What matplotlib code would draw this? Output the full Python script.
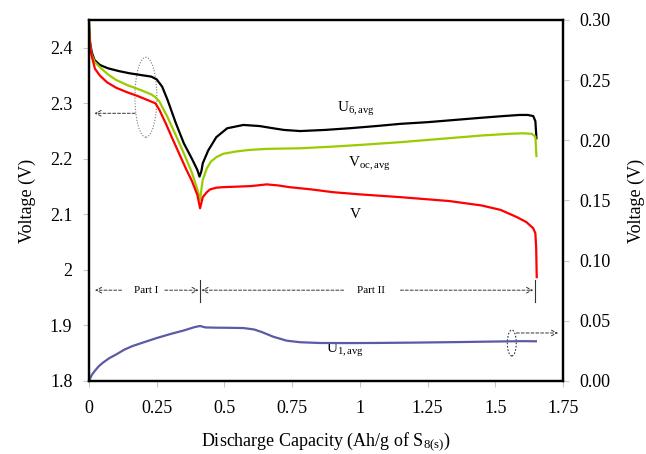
import matplotlib
matplotlib.use('Agg')
import matplotlib.pyplot as plt
from matplotlib.patches import Ellipse
from matplotlib.ticker import FormatStrFormatter

plt.rcParams['font.family'] = ['Liberation Serif', 'DejaVu Serif']
plt.rcParams['mathtext.fontset'] = 'custom'
plt.rcParams['mathtext.rm'] = 'Liberation Serif'
plt.rcParams['mathtext.it'] = 'Liberation Serif'

# U6,avg (black), left axis
u6_x = [0, 0.004, 0.01, 0.02, 0.04, 0.07, 0.11, 0.15, 0.19, 0.23, 0.25, 0.27, 0.29, 0.32,
        0.35, 0.38, 0.40, 0.408, 0.415, 0.42, 0.44, 0.47, 0.51, 0.57, 0.63, 0.68, 0.72,
        0.78, 0.87, 0.96, 1.06, 1.15, 1.25, 1.35, 1.45, 1.53, 1.59, 1.62, 1.64, 1.648, 1.652]
u6_y = [2.445, 2.41, 2.392, 2.378, 2.369, 2.363, 2.358, 2.354, 2.351, 2.348, 2.343, 2.33,
        2.306, 2.265, 2.228, 2.20, 2.18, 2.168, 2.178, 2.192, 2.215, 2.239, 2.255, 2.261,
        2.259, 2.255, 2.252, 2.250, 2.252, 2.255, 2.259, 2.263, 2.266, 2.270, 2.274, 2.277,
        2.279, 2.279, 2.277, 2.268, 2.237]

# Voc,avg (green), left axis
voc_x = [0, 0.003, 0.008, 0.02, 0.04, 0.07, 0.10, 0.14, 0.19, 0.23, 0.245, 0.26, 0.29,
         0.32, 0.35, 0.38, 0.40, 0.41, 0.415, 0.42, 0.435, 0.45, 0.47, 0.495, 0.54, 0.59,
         0.66, 0.78, 0.9, 1.0, 1.15, 1.3, 1.45, 1.55, 1.6, 1.635, 1.648, 1.652]
voc_y = [2.445, 2.41, 2.39, 2.375, 2.365, 2.352, 2.342, 2.333, 2.324, 2.316, 2.311, 2.303,
         2.275, 2.243, 2.21, 2.175, 2.145, 2.126, 2.145, 2.162, 2.183, 2.195, 2.203, 2.209,
         2.213, 2.216, 2.218, 2.219, 2.222, 2.225, 2.230, 2.236, 2.242, 2.245, 2.246, 2.245,
         2.240, 2.205]

# V (red), left axis
v_x = [0, 0.003, 0.01, 0.022, 0.04, 0.066, 0.10, 0.14, 0.18, 0.21, 0.245, 0.26, 0.285,
       0.31, 0.335, 0.36, 0.38, 0.40, 0.41, 0.42, 0.435, 0.447, 0.47, 0.495, 0.55, 0.6,
       0.656, 0.70, 0.74, 0.82, 0.90, 1.0, 1.15, 1.33, 1.45, 1.52, 1.58, 1.615, 1.64,
       1.648, 1.651, 1.653]
v_y = [2.43, 2.405, 2.385, 2.362, 2.35, 2.338, 2.328, 2.32, 2.313, 2.307, 2.30, 2.288,
       2.262, 2.234, 2.207, 2.18, 2.16, 2.135, 2.111, 2.131, 2.14, 2.145, 2.148, 2.149,
       2.150, 2.151, 2.154, 2.152, 2.149, 2.145, 2.140, 2.136, 2.131, 2.124, 2.116, 2.108,
       2.095, 2.086, 2.075, 2.066, 2.04, 1.987]

# U1,avg (blue), right axis
u1_x = [0, 0.01, 0.02, 0.035, 0.05, 0.075, 0.10, 0.13, 0.16, 0.20, 0.25, 0.30, 0.35,
        0.39, 0.41, 0.43, 0.47, 0.52, 0.57, 0.61, 0.64, 0.68, 0.73, 0.78, 0.85, 0.95,
        1.05, 1.2, 1.35, 1.5, 1.6, 1.65]
u1_y = [0.0, 0.005, 0.008, 0.012, 0.015, 0.019, 0.022, 0.026, 0.029, 0.032, 0.0357,
        0.039, 0.042, 0.0448, 0.0457, 0.0445, 0.0443, 0.0442, 0.044, 0.0428, 0.0405,
        0.0368, 0.0335, 0.0322, 0.0316, 0.0315, 0.0316, 0.0319, 0.0323, 0.0328, 0.0331,
        0.0330]

x_ticks = [0, 0.25, 0.5, 0.75, 1, 1.25, 1.5, 1.75]
left_ticks = [1.8, 1.9, 2.0, 2.1, 2.2, 2.3, 2.4]
right_ticks = [0.0, 0.05, 0.10, 0.15, 0.20, 0.25, 0.30]

fig = plt.figure(figsize=(6.46, 4.54), dpi=100)
ax = fig.add_axes([0.1378, 0.1608, 0.7337, 0.7952])
ax2 = ax.twinx()

ax.plot(u6_x, u6_y, color='black', lw=1.6)
ax.plot(voc_x, voc_y, color='#99cc00', lw=1.6)
ax.plot(v_x, v_y, color='#ff0000', lw=1.6)
ax2.plot(u1_x, u1_y, color='#5a5aa6', lw=1.6)

ax.set_xlim(0, 1.75)
ax.set_ylim(1.8, 2.45)
ax2.set_ylim(0, 0.30)
ax.set_xticks(x_ticks)
ax.set_yticks(left_ticks)
ax2.set_yticks(right_ticks)
ax.xaxis.set_major_formatter(FormatStrFormatter('%g'))
ax.yaxis.set_major_formatter(FormatStrFormatter('%g'))
ax2.yaxis.set_major_formatter(FormatStrFormatter('%.2f'))

for a in (ax, ax2):
    a.tick_params(direction='out', length=4, width=0.8, color='#c8c8c8',
                  labelsize=13, pad=8)
    for s in a.spines.values():
        s.set_linewidth(1.6)
ax.tick_params(axis='x', pad=10)

ax.set_xlabel('Discharge Capacity (Ah/g of S$_{8(s)}$)', fontsize=13, labelpad=9)
ax.set_ylabel('Voltage (V)', fontsize=13, labelpad=10)
ax2.set_ylabel('Voltage (V)', fontsize=13, labelpad=12)

# curve labels
ax.text(0.985, 2.284, r'U$_{\mathregular{6,avg}}$', fontsize=11, ha='center')
ax.text(1.035, 2.185, r'V$_{\mathregular{oc,avg}}$', fontsize=11, ha='center')
ax.text(0.985, 2.093, 'V', fontsize=11, ha='center')
ax.text(0.945, 1.85, r'U$_{\mathregular{1,avg}}$', fontsize=11, ha='center')

arrow = dict(arrowstyle='->', linestyle=(0, (3, 2)), lw=0.7, color='#333333',
             shrinkA=0, shrinkB=0)

# ellipse + arrow for left axis curves
ax.add_patch(Ellipse((0.21, 2.311), 0.081, 0.144, fill=False, ls=(0, (1, 1.5)),
                     lw=0.8, ec='#777777'))
ax.annotate('', xy=(0.02, 2.282), xytext=(0.17, 2.282), arrowprops=arrow)

# ellipse + arrow for right axis curve
ax2.add_patch(Ellipse((1.561, 0.0316), 0.033, 0.0216, fill=False, ls=(0, (1.5, 1.5)),
                      lw=0.8, ec='#333333'))
ax2.annotate('', xy=(1.732, 0.0399), xytext=(1.578, 0.0399), arrowprops=arrow)

# Part I / Part II markers
py = 1.9635
ax.plot([0.41, 0.41], [1.942, 1.981], color='#333333', lw=0.8)
ax.plot([1.645, 1.645], [1.942, 1.981], color='#333333', lw=0.8)
ax.annotate('', xy=(0.022, py), xytext=(0.12, py), arrowprops=arrow)
ax.annotate('', xy=(0.405, py), xytext=(0.28, py), arrowprops=arrow)
ax.text(0.21, py, 'Part I', fontsize=8, ha='center', va='center')
ax.annotate('', xy=(0.415, py), xytext=(0.94, py), arrowprops=arrow)
ax.annotate('', xy=(1.64, py), xytext=(1.15, py), arrowprops=arrow)
ax.text(1.04, py, 'Part II', fontsize=8, ha='center', va='center')

fig.savefig('out.png', dpi=100)
